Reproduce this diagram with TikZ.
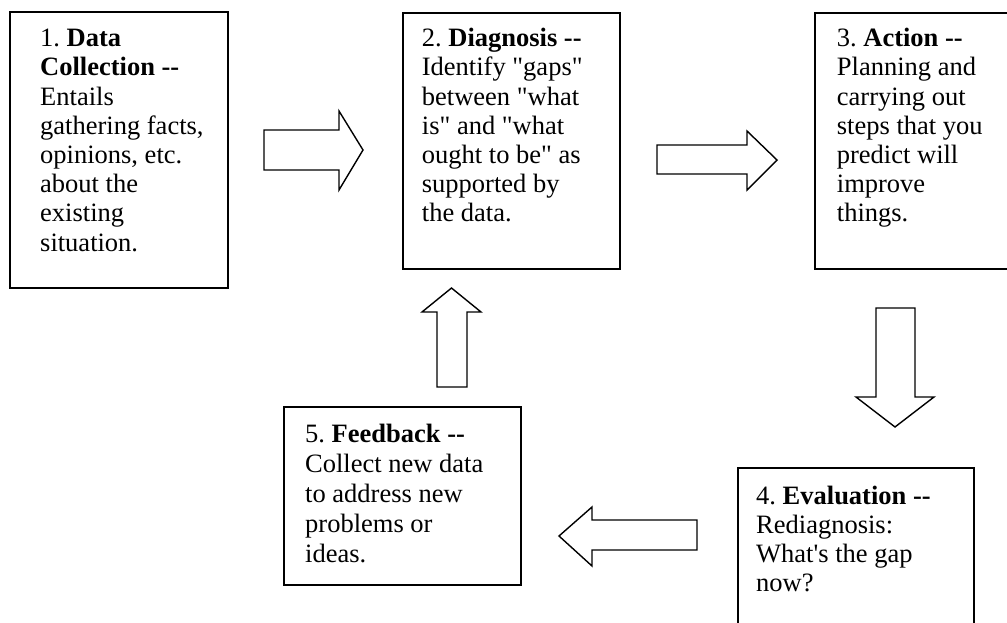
\documentclass[tikz,border=0pt]{standalone}
\usepackage{fontspec}
\newfontfamily\tnr{Liberation Serif}
\frenchspacing
\begin{document}
\begin{tikzpicture}[x=1pt,y=-1pt,
  box/.style={draw=black, line width=1.8pt, inner sep=0pt, anchor=north west},
  steptext/.style={anchor=base west, inner sep=0pt,
    font=\tnr\fontsize{26.5pt}{29.2pt}\selectfont},
  blockarrow/.style={draw=black, line width=1.4pt, line join=miter, fill=white}]
\useasboundingbox (0,0) rectangle (1007,622);
\clip (0,0) rectangle (1007,622);
\fill[white] (0,0) rectangle (1007,622);

% the five stages
\node[box, minimum width=218pt, minimum height=276pt] (b1) at (9,11) {};
\node[box, minimum width=217pt, minimum height=256pt] (b2) at (402,12) {};
\node[box, minimum width=220pt, minimum height=256pt] (b3) at (814,12) {};
\node[box, minimum width=236pt, minimum height=175pt] (b4) at (737,467) {};
\node[box, minimum width=237pt, minimum height=178pt] (b5) at (283,406) {};

\node[steptext] (t1) at (40,46.7) {\parbox[t]{300pt}{1. \textbf{Data}\\
  \textbf{Collection --}\\ Entails\\ gathering facts,\\ opinions, etc.\\
  about the\\ existing\\ situation.}};
\node[steptext] (t2) at (421.7,46.7) {\parbox[t]{300pt}{2. \textbf{Diagnosis --}\\
  Identify "gaps"\\ between "what\\ is" and "what\\ ought to be" as\\
  supported by\\ the data.}};
\node[steptext] (t3) at (836.7,46.7) {\parbox[t]{300pt}{3. \textbf{Action --}\\
  Planning and\\ carrying out\\ steps that you\\ predict will\\
  improve\\ things.}};
\node[steptext] (t4) at (756,504) {\parbox[t]{300pt}{4. \textbf{Evaluation --}\\
  Rediagnosis:\\ What's the gap\\ now?}};
\node[steptext, font=\tnr\fontsize{26.5pt}{30pt}\selectfont] (t5) at (305,442)
  {\parbox[t]{300pt}{5. \textbf{Feedback --}\\
  Collect new data\\ to address new\\ problems or\\ ideas.}};

% block arrows between the stages
% 1 -> 2
\draw[blockarrow] (264,130) -- (339,130) -- (339,111) -- (363,150)
  -- (339,190) -- (339,170) -- (264,170) -- cycle;
% 2 -> 3
\draw[blockarrow] (657,145) -- (747,145) -- (747,131) -- (777,160)
  -- (747,190) -- (747,174) -- (657,174) -- cycle;
% 3 -> 4
\draw[blockarrow] (876,308) -- (915,308) -- (915,397) -- (934,397)
  -- (895,427) -- (856,397) -- (876,397) -- cycle;
% 4 -> 5
\draw[blockarrow] (697,520) -- (592,520) -- (592,507) -- (559,536)
  -- (592,566) -- (592,550) -- (697,550) -- cycle;
% 5 -> 2
\draw[blockarrow] (437,387) -- (437,312) -- (422,312) -- (451.5,288)
  -- (481,312) -- (467,312) -- (467,387) -- cycle;
\end{tikzpicture}
\end{document}
